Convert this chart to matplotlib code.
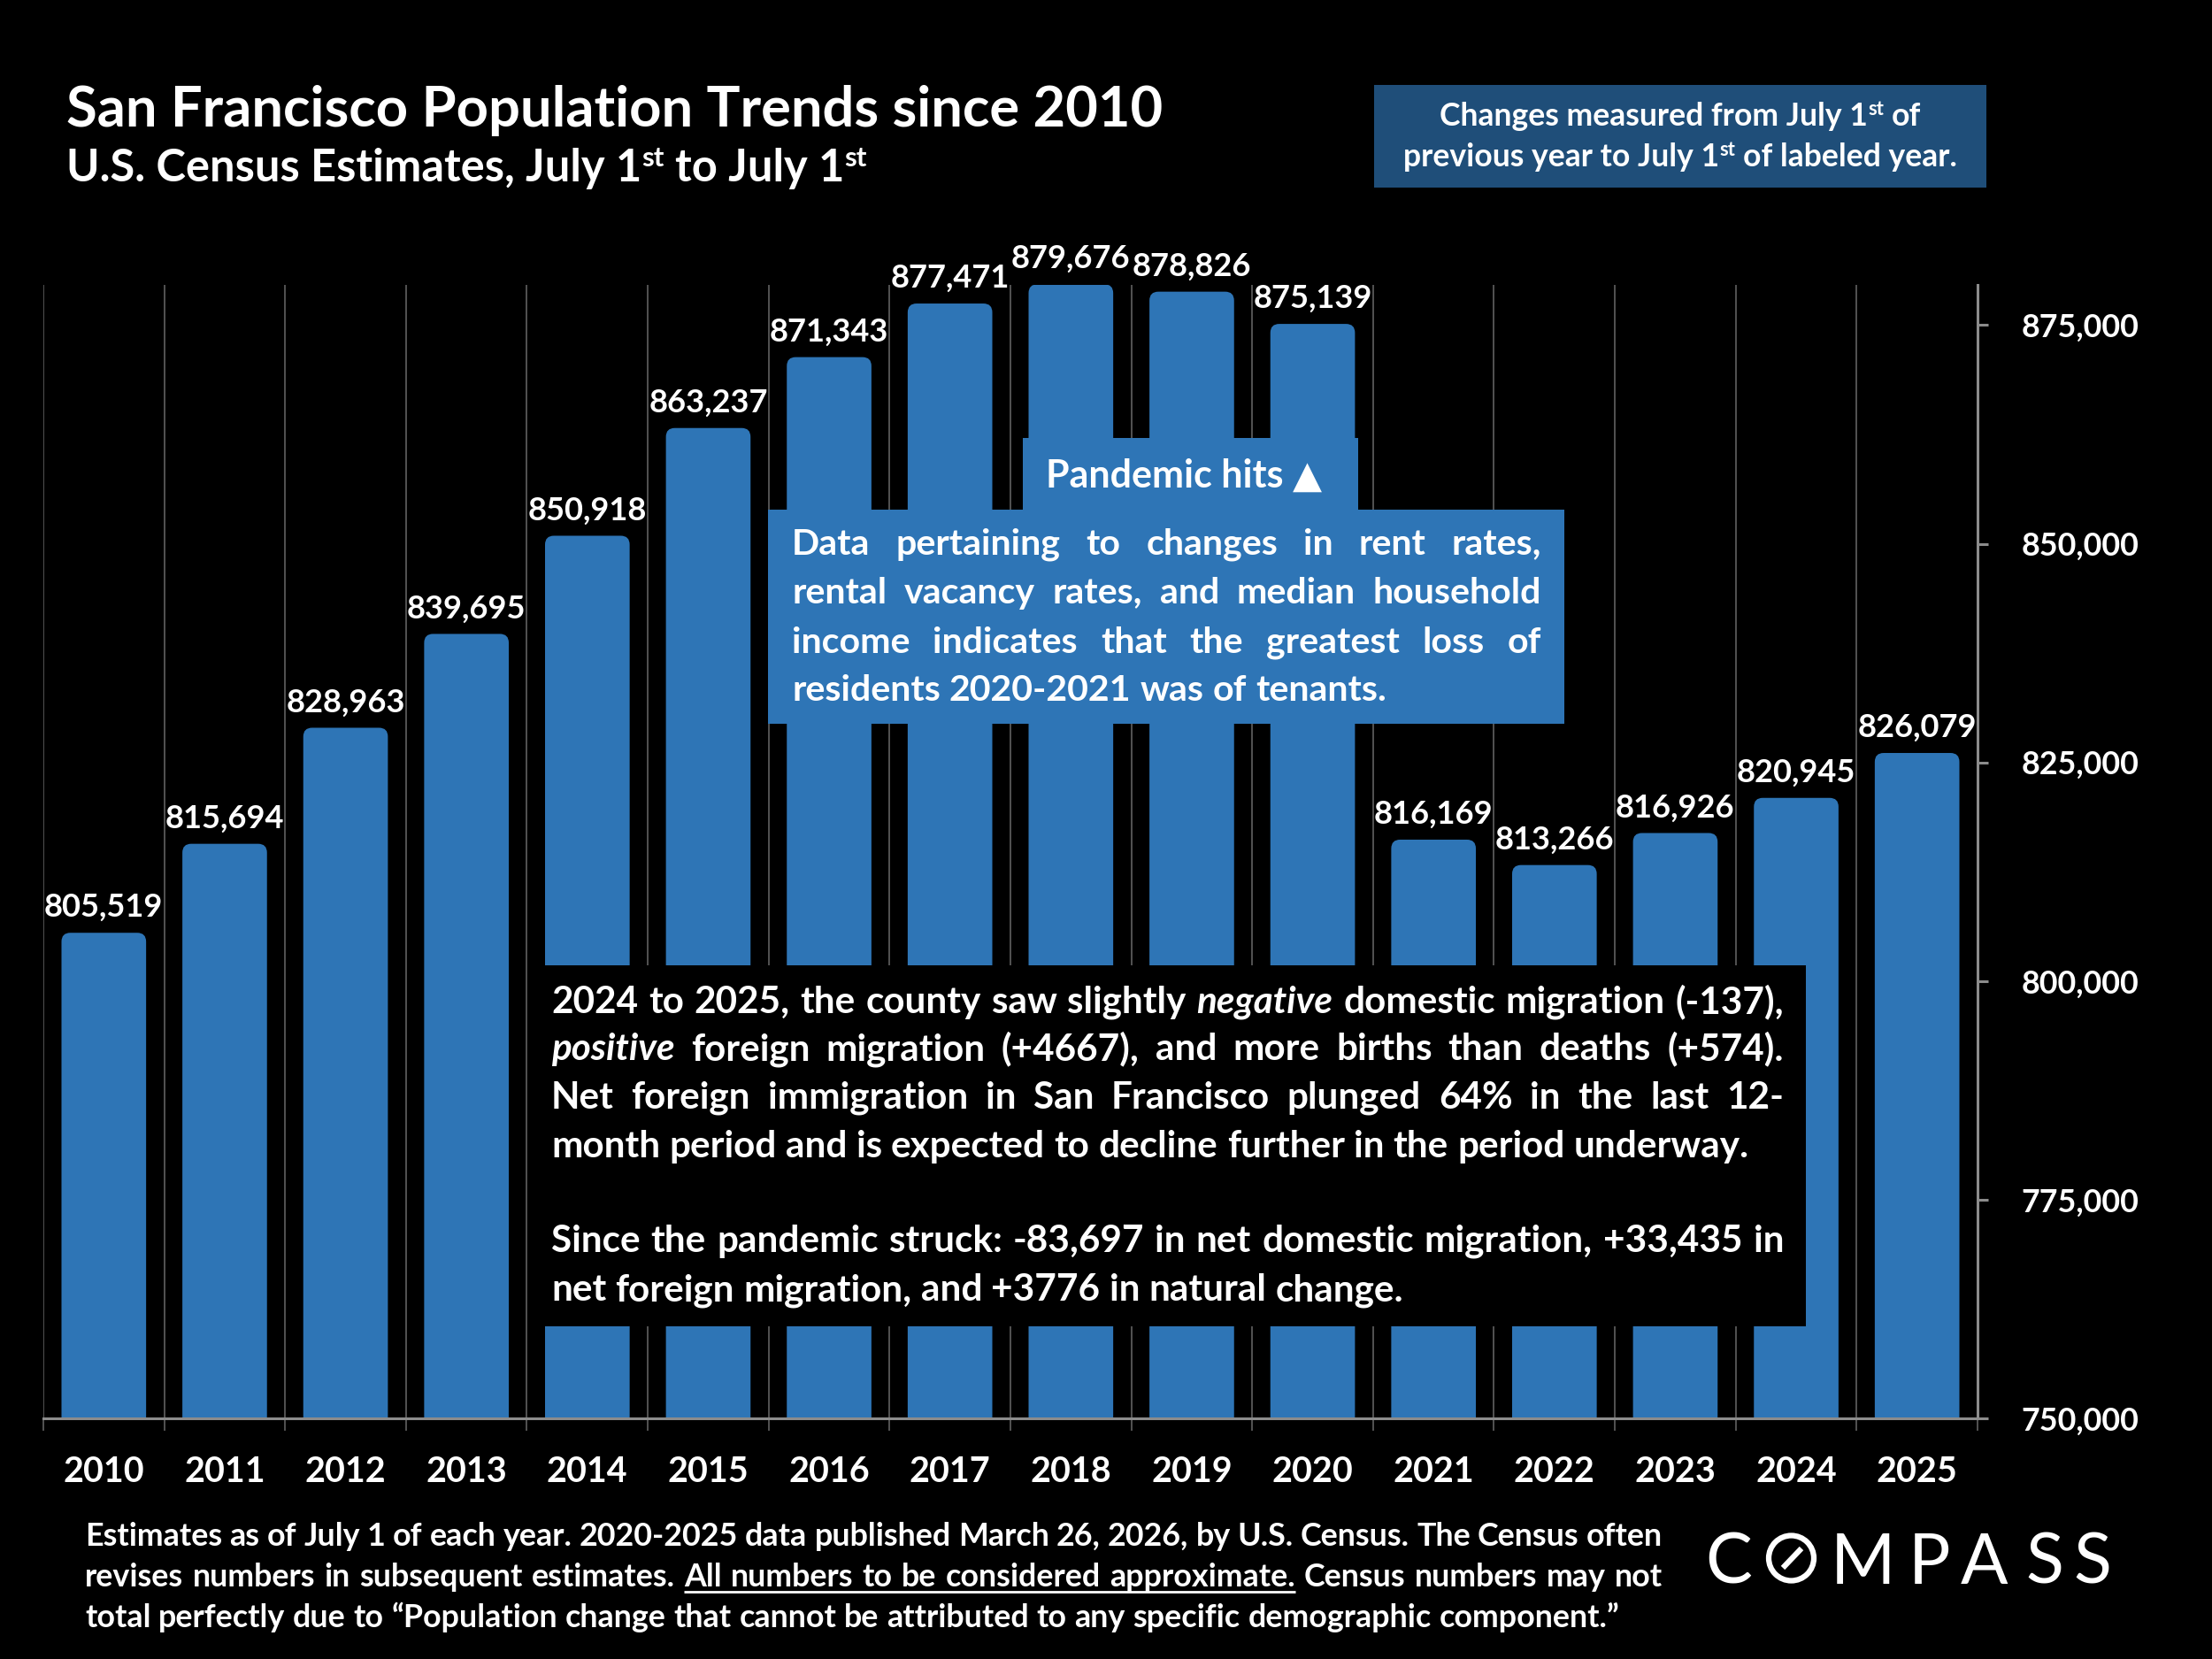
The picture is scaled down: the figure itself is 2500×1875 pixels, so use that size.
import numpy as np
import matplotlib
matplotlib.use('Agg')
import matplotlib.pyplot as plt
from matplotlib.patches import FancyBboxPatch, Rectangle, Circle
from matplotlib.ticker import FuncFormatter

# ---------------- data ----------------
years = ['2010', '2011', '2012', '2013', '2014', '2015', '2016', '2017',
         '2018', '2019', '2020', '2021', '2022', '2023', '2024', '2025']
population = [805519, 815694, 828963, 839695, 850918, 863237, 871343, 877471,
              879676, 878826, 875139, 816169, 813266, 816926, 820945, 826079]
y_ticks = [750000, 775000, 800000, 825000, 850000, 875000]

title = 'San Francisco Population Trends since 2010'
subtitle = ['U.S. Census Estimates, July 1', '^st', ' ', 'to July 1', '^st']
note_1 = ['Changes measured from July 1', '^st', ' ', 'of']
note_2 = ['previous year to July 1', '^st', ' ', 'of labeled year.']
pandemic_note = 'Pandemic hits \u25B2'
tenant_lines = [
    'Data pertaining to changes in rent rates,',
    'rental vacancy rates, and median household',
    'income indicates that the greatest loss of',
    'residents 2020-2021 was of tenants.',
]
migration_lines = [
    '2024 to 2025, the county saw slightly *negative* domestic migration (-137),',
    '*positive* foreign migration (+4667), and more births than deaths (+574).',
    'Net foreign immigration in San Francisco plunged 64% in the last 12-',
    'month period and is expected to decline further in the period underway.',
    'Since the pandemic struck: -83,697 in net domestic migration, +33,435 in',
    'net foreign migration, and +3776 in natural change.',
]
footnote_lines = [
    'Estimates as of July 1 of each year. 2020-2025 data published March 26, 2026, '
    'by U.S. Census. The Census often',
    'revises numbers in subsequent estimates. All numbers to be considered approximate. '
    'Census numbers may not',
    'total perfectly due to \u201cPopulation change that cannot be attributed to any '
    'specific demographic component.\u201d',
]

FONT = ['Lato', 'DejaVu Sans']
BLUE = '#2E75B6'
NAVY = '#1F4E79'
GRID = '#595959'
AXIS = '#8C8C8C'

W, H = 2500, 1875
fig = plt.figure(figsize=(W / 100, H / 100), dpi=100, facecolor='black')
R = fig.canvas.get_renderer()

# overlay in pixel coordinates (y downwards) for titles and call-out boxes
ov = fig.add_axes([0, 0, 1, 1], zorder=5)
ov.set_xlim(0, W)
ov.set_ylim(H, 0)
ov.set_axis_off()


def put(x, y, s, size, style='normal', weight='bold', color='white'):
    return ov.text(x, y, s, fontsize=size, fontstyle=style, fontweight=weight,
                   color=color, family=FONT, va='baseline', ha='left')


def width_of(s, size, style='normal'):
    t = put(0, 0, s, size, style)
    w = t.get_window_extent(R).width
    t.remove()
    return w


def fit(s, target, style='normal'):
    return 20 * target / width_of(s, 20, style)


def space_of(size):
    return width_of('n n', size) - width_of('nn', size)


def line(x0, y, s, size, justify_to=None):
    words = s.split()
    arts = [put(0, y, w.strip('*'), size,
                'italic' if w.startswith('*') else 'normal') for w in words]
    ws = [a.get_window_extent(R).width for a in arts]
    gap = space_of(size)
    if justify_to and len(words) > 1:
        gap = (justify_to - sum(ws)) / (len(words) - 1)
    x, spans = x0, []
    for a, w in zip(arts, ws):
        a.set_x(x)
        spans.append((x, x + w))
        x += w + gap
    return spans


def runs(x, y, parts, size, ha='left', draw=True):
    px = size * 100 / 72
    pieces = []
    for p in parts:
        if p == ' ':
            pieces.append((None, space_of(size), 0, size))
        elif p.startswith('^'):
            s2 = size * 0.62
            pieces.append((p[1:], width_of(p[1:], s2), 0.33 * px, s2))
        else:
            pieces.append((p, width_of(p, size), 0, size))
    total = sum(pc[1] for pc in pieces)
    if not draw:
        return total
    if ha == 'center':
        x -= total / 2
    for s, w, rise, sz in pieces:
        if s:
            put(x, y - rise, s, sz)
        x += w
    return total


def fit_runs(parts, target):
    return 20 * target / runs(0, 0, parts, 20, draw=False)


# ---------------- chart ----------------
ax = fig.add_axes([49 / W, 1 - 1603 / H, (2235 - 49) / W, (1603 - 322) / H], zorder=1)
ax.set_facecolor('black')
x = np.arange(len(years))
bars = ax.bar(x, population, width=0.7, color=BLUE, zorder=2)
ax.set_xlim(-0.5, len(years) - 0.5)
ax.set_ylim(750000, 879600)

# rounded tops
bb = ax.get_window_extent(R)
ux = (ax.get_xlim()[1] - ax.get_xlim()[0]) / bb.width
uy = (ax.get_ylim()[1] - ax.get_ylim()[0]) / bb.height
for b in bars:
    b.set_visible(False)
    ax.add_patch(FancyBboxPatch((b.get_x(), b.get_y()), b.get_width(), b.get_height(),
                                boxstyle=f'round,pad=0,rounding_size={10 * ux}',
                                mutation_aspect=uy / ux, fc=BLUE, ec='none', zorder=2))

lab_size = fit('805,519', 135)
for xi, v in zip(x, population):
    ax.annotate(f'{v:,}', (xi, v), xytext=(0, 13), textcoords='offset points',
                ha='center', va='baseline', color='white', fontsize=lab_size,
                fontweight='bold', family=FONT, annotation_clip=False, zorder=3)

ax.set_xticks(x)
ax.set_xticklabels(years, fontsize=fit('2010', 92), fontweight='bold', family=FONT)
ax.set_xticks(np.arange(-0.5, len(years), 1), minor=True)
ax.grid(which='minor', axis='x', color=GRID, lw=1.3, zorder=0)
ax.set_axisbelow(True)
ax.tick_params(axis='x', which='major', length=0, pad=30, labelcolor='white')
ax.tick_params(axis='x', which='minor', length=10, width=1.3, color=GRID)

ax.yaxis.tick_right()
ax.set_yticks(y_ticks)
ax.yaxis.set_major_formatter(FuncFormatter(lambda v, p: f'{int(v):,}'))
ysize = fit('750,000', 134)
for t in ax.get_yticklabels():
    t.set_fontsize(ysize)
    t.set_fontweight('bold')
    t.set_family(FONT)
ax.tick_params(axis='y', length=8.6, width=2.2, color=AXIS, pad=27, labelcolor='white')

for s in ['top', 'left']:
    ax.spines[s].set_visible(False)
for s in ['bottom', 'right']:
    ax.spines[s].set_color(AXIS)
    ax.spines[s].set_linewidth(2.2)

# ---------------- titles ----------------
put(75, 143, title, fit(title, 1240))
runs(75, 205, subtitle, fit_runs(subtitle[:1], 652))

ov.add_patch(Rectangle((1553, 96), 692, 116, fc=NAVY, ec='none'))
nsize = fit_runs(note_2, 625)
runs(1899, 142, note_1, nsize, ha='center')
runs(1899, 188, note_2, nsize, ha='center')

# ---------------- call-out boxes ----------------
ov.add_patch(Rectangle((1156, 495), 379, 82, fc=BLUE, ec='none'))
ov.add_patch(Rectangle((868, 576), 900, 242, fc=BLUE, ec='none'))
t = put(1338, 551, pandemic_note, fit(pandemic_note, 312))
t.set_ha('center')

tsize = fit(tenant_lines[3], 673)
for s, y, just in zip(tenant_lines, [627, 682, 738, 792], [True, True, True, False]):
    line(895, y, s, tsize, 847 if just else None)

ov.add_patch(Rectangle((606, 1091), 1435, 408, fc='black', ec='none'))
msize = fit(migration_lines[3], 1355)
for s, y, just in zip(migration_lines, [1145, 1198, 1253, 1308, 1415, 1470],
                      [True, True, True, False, True, False]):
    line(623, y, s, msize, 1393 if just else None)

# ---------------- footnote ----------------
fsize = fit(footnote_lines[2], 1735)
line(96, 1747, footnote_lines[0], fsize, 1783)
spans = line(96, 1793, footnote_lines[1], fsize, 1783)
words = footnote_lines[1].split()
i0 = words.index('All')
i1 = words.index('approximate.')
ov.plot([spans[i0][0], spans[i1][1]], [1799, 1799], color='white', lw=2, solid_capstyle='butt')
line(96, 1839, footnote_lines[2], fsize)

# ---------------- logo ----------------
for ch, cx in zip('CMPASS', [1954, 2105, 2180, 2243, 2311, 2365]):
    ov.text(cx, 1790, ch, fontsize=57, family=FONT, fontweight='normal',
            color='white', ha='center', va='baseline')
ov.add_patch(Circle((2024.5, 1761), 25.5, fc='none', ec='white', lw=4.5))
ov.plot([2015, 2036], [1772, 1750], color='white', lw=4.5, solid_capstyle='butt')

fig.savefig('out.png', dpi=100, facecolor='black')
